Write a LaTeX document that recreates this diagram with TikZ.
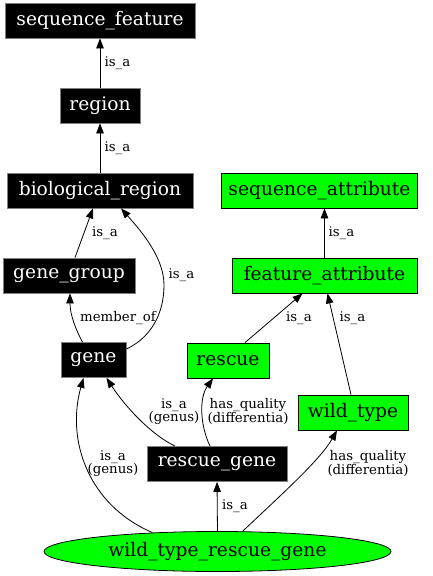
\documentclass[tikz,border=0pt]{standalone}
\usepackage{fontspec}
\setmainfont{DejaVu Serif}
\usetikzlibrary{shapes.geometric,arrows.meta,calc}
\definecolor{gvgreen}{RGB}{0,255,0}
\begin{document}
\begin{tikzpicture}[x=1pt,y=-1pt,
  nfont/.style={font=\fontsize{18.67}{20}\selectfont},
  blk/.style={rectangle, fill=black, draw=gray, text=white, nfont, minimum height=35pt, inner sep=0pt, line width=0.8pt},
  grn/.style={rectangle, fill=gvgreen, draw=black, text=black, nfont, minimum height=35pt, inner sep=0pt, line width=0.8pt},
  elab/.style={font=\fontsize{13.33}{13.3}\selectfont, align=center, inner sep=0pt},
  arr/.style={-{Triangle[length=10pt,width=7.5pt]}, draw=black, line width=0.8pt}]
\useasboundingbox (0,0) rectangle (432,576);
\fill[white] (0,0) rectangle (432,576);
% nodes
\node[blk, minimum width=190pt] (sf) at (100,20.5) {sequence\_feature};
\node[blk, minimum width=80pt] (region) at (100,105.5) {region};
\node[blk, minimum width=186pt] (bio) at (100,190.5) {biological\_region};
\node[blk, minimum width=132pt] (gg) at (69,275.5) {gene\_group};
\node[blk, minimum width=65pt] (gene) at (93.5,360) {gene};
\node[blk, minimum width=140pt] (rg) at (217,464) {rescue\_gene};
\node[grn, minimum width=196pt] (sa) at (319.5,190.5) {sequence\_attribute};
\node[grn, minimum width=185pt] (fa) at (324.5,275.5) {feature\_attribute};
\node[grn, minimum width=82pt] (rescue) at (228,360.5) {rescue};
\node[grn, minimum width=110pt] (wt) at (353,412.5) {wild\_type};
\node[ellipse, fill=gvgreen, draw=black, line width=0.8pt, nfont, minimum width=347pt, minimum height=40pt, inner sep=0pt] (wtrg) at (217.5,551.5) {wild\_type\_rescue\_gene};
% edges
\draw[arr] (region.north) -- (sf.south);
\draw[arr] (bio.north) -- (region.south);
\draw[arr] ($(gg.north)+(6,0)$) -- ($(bio.south)+(-7,0)$);
\draw[arr] ($(gene.east)+(0,-11)$) .. controls (150,338) and (164,315) .. (164,285) .. controls (164,258) and (142,232) .. ($(bio.south)+(21,0)$);
\draw[arr] ($(gene.north)+(-11,0)$) .. controls (76,330) and (70,315) .. ($(gg.south)+(1,0)$);
\draw[arr] ($(rg.north)+(-42,0)$) .. controls (150,434) and (124,405) .. ($(gene.south)+(13,0)$);
\draw[arr] ($(rg.north)+(-7,0)$) .. controls (200,425) and (199,398) .. ($(rescue.south)+(-15,0)$);
\draw[arr] ($(wtrg.north)+(-65,1.5)$) .. controls (88,505) and (66,440) .. ($(gene.south)+(-10,0)$);
\draw[arr] (wtrg.north) -- (rg.south);
\draw[arr] ($(wtrg.north)+(25,0.3)$) .. controls (282,494) and (320,460) .. ($(wt.south)+(-16,0)$);
\draw[arr] ($(rescue.north)+(17,0)$) -- ($(fa.south)+(-22,0)$);
\draw[arr] ($(wt.north)+(-2,0)$) -- ($(fa.south)+(3,0)$);
\draw[arr] (fa.north) -- ($(sa.south)+(5,0)$);
% edge labels
\node[elab] (l1) at (117.5,63) {is\_a};
\node[elab] (l2) at (117.5,148) {is\_a};
\node[elab] (l3) at (105,233) {is\_a};
\node[elab] (l4) at (181.5,275) {is\_a};
\node[elab] (l5) at (118,318) {member\_of};
\node[elab] (l6) at (174,411.5) {is\_a\\(genus)};
\node[elab] (l7) at (248,411.5) {has\_quality\\(differentia)};
\node[elab] (l8) at (113,463.5) {is\_a\\(genus)};
\node[elab] (l9) at (235,506) {is\_a};
\node[elab] (l10) at (368,463.5) {has\_quality\\(differentia)};
\node[elab] (l11) at (299,318) {is\_a};
\node[elab] (l12) at (352.5,318) {is\_a};
\node[elab] (l13) at (341.5,233) {is\_a};
\end{tikzpicture}
\end{document}
